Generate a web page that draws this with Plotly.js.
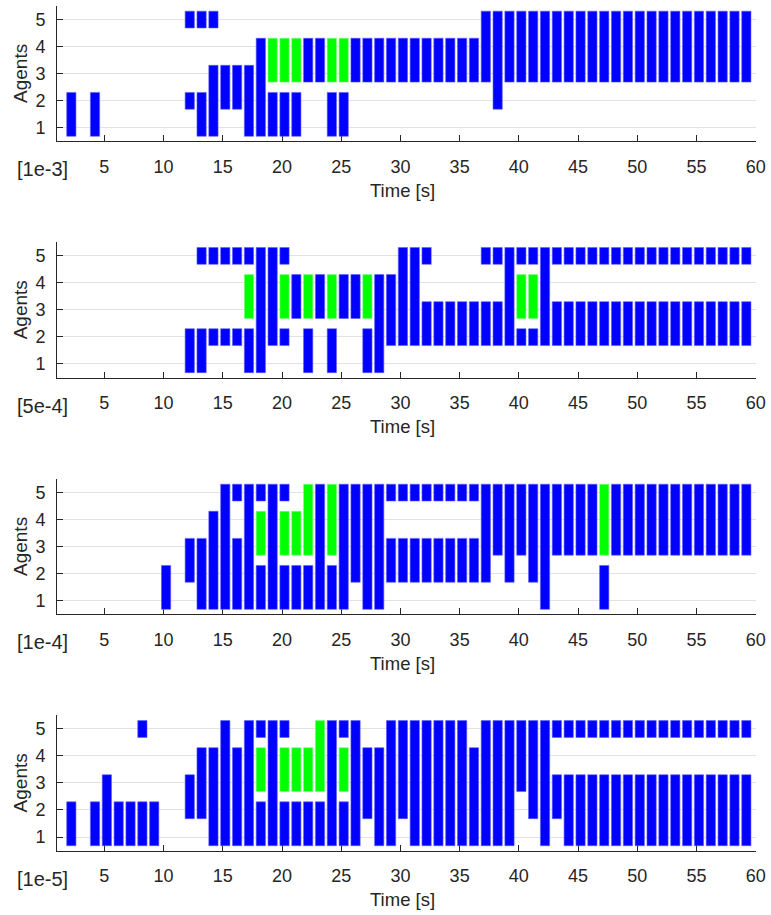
<!DOCTYPE html>
<html>
<head>
<meta charset="utf-8">
<script src="https://cdn.plot.ly/plotly-3.0.1.min.js"></script>
<style>html,body{margin:0;padding:0;background:#fff;}#chart{width:771px;height:915px;}</style>
</head>
<body>
<div id="chart"></div>
<script>
// ---- data: [time step, lowest agent, highest agent] of each contiguous group ----
const TIME_TICKS = [5,10,15,20,25,30,35,40,45,50,55,60];
const AGENT_TICKS = [1,2,3,4,5];
const SCALE_LABELS = ['[1e-3]','[5e-4]','[1e-4]','[1e-5]'];

const blue1 = [[2,1,2],[4,1,2],[12,5,5],[12,2,2],[13,5,5],[13,1,2],[14,5,5],[14,1,3],[15,2,3],[16,2,3],[17,1,3],[18,1,4],
 [19,1,2],[20,1,2],[21,1,2],[22,3,4],[23,3,4],[24,1,2],[25,1,2],
 [26,3,4],[27,3,4],[28,3,4],[29,3,4],[30,3,4],[31,3,4],[32,3,4],[33,3,4],[34,3,4],[35,3,4],[36,3,4],
 [37,3,5],[38,2,5],[39,3,5],[40,3,5],[41,3,5],[42,3,5],[43,3,5],[44,3,5],[45,3,5],[46,3,5],[47,3,5],[48,3,5],
 [49,3,5],[50,3,5],[51,3,5],[52,3,5],[53,3,5],[54,3,5],[55,3,5],[56,3,5],[57,3,5],[58,3,5],[59,3,5]];
const green1 = [[19,3,4],[20,3,4],[21,3,4],[24,3,4],[25,3,4]];

const blue2 = [[12,1,2],[13,5,5],[13,1,2],[14,5,5],[14,2,2],[15,5,5],[15,2,2],[16,5,5],[16,2,2],[17,5,5],[17,1,2],
 [18,1,5],[19,2,5],[20,5,5],[20,2,2],[21,3,4],[22,1,2],[23,3,4],[24,1,2],[25,3,4],[26,3,4],[27,1,2],[28,1,4],[29,2,4],
 [30,2,5],[31,2,5],[32,5,5],[32,2,3],[33,2,3],[34,2,3],[35,2,3],[36,2,3],[37,5,5],[37,2,3],[38,5,5],[38,2,3],
 [39,2,5],[40,5,5],[40,2,2],[41,5,5],[41,2,2],[42,2,5],
 [43,5,5],[43,2,3],[44,5,5],[44,2,3],[45,5,5],[45,2,3],[46,5,5],[46,2,3],[47,5,5],[47,2,3],[48,5,5],[48,2,3],
 [49,5,5],[49,2,3],[50,5,5],[50,2,3],[51,5,5],[51,2,3],[52,5,5],[52,2,3],[53,5,5],[53,2,3],[54,5,5],[54,2,3],
 [55,5,5],[55,2,3],[56,5,5],[56,2,3],[57,5,5],[57,2,3],[58,5,5],[58,2,3],[59,5,5],[59,2,3]];
const green2 = [[17,3,4],[20,3,4],[22,3,4],[24,3,4],[27,3,4],[40,3,4],[41,3,4]];

const blue3 = [[10,1,2],[12,2,3],[13,1,3],[14,1,4],[15,1,5],[16,5,5],[16,1,3],[17,1,5],[18,5,5],[18,1,2],[19,1,5],
 [20,5,5],[20,1,2],[21,1,2],[22,1,2],[23,1,5],[24,1,2],[25,1,5],[26,2,5],[27,1,5],[28,1,5],
 [29,5,5],[29,2,3],[30,5,5],[30,2,3],[31,5,5],[31,2,3],[32,5,5],[32,2,3],[33,5,5],[33,2,3],[34,5,5],[34,2,3],
 [35,5,5],[35,2,3],[36,5,5],[36,2,3],[37,2,5],[38,3,5],[39,2,5],[40,3,5],[41,2,5],[42,1,5],
 [43,3,5],[44,3,5],[45,3,5],[46,3,5],[47,1,2],[48,3,5],[49,3,5],[50,3,5],[51,3,5],[52,3,5],[53,3,5],
 [54,3,5],[55,3,5],[56,3,5],[57,3,5],[58,3,5],[59,3,5]];
const green3 = [[18,3,4],[20,3,4],[21,3,4],[22,3,5],[24,3,5],[47,3,5]];

const blue4 = [[2,1,2],[4,1,2],[5,1,3],[6,1,2],[7,1,2],[8,5,5],[8,1,2],[9,1,2],[12,2,3],[13,2,4],[14,1,4],[15,1,5],
 [16,1,4],[17,1,5],[18,5,5],[18,1,2],[19,1,5],[20,5,5],[20,1,2],[21,1,2],[22,1,2],[23,1,2],[24,1,5],[25,5,5],[25,1,2],
 [26,1,5],[27,2,4],[28,1,4],[29,1,5],[30,2,5],[31,1,5],[32,1,5],[33,1,5],[34,1,5],[35,1,5],[36,1,4],[37,1,5],
 [38,1,5],[39,1,5],[40,3,5],[41,2,5],[42,1,5],[43,5,5],[43,2,3],
 [44,5,5],[44,1,3],[45,5,5],[45,1,3],[46,5,5],[46,1,3],[47,5,5],[47,1,3],[48,5,5],[48,1,3],[49,5,5],[49,1,3],
 [50,5,5],[50,1,3],[51,5,5],[51,1,3],[52,5,5],[52,1,3],[53,5,5],[53,1,3],[54,5,5],[54,1,3],[55,5,5],[55,1,3],
 [56,5,5],[56,1,3],[57,5,5],[57,1,3],[58,5,5],[58,1,3],[59,5,5],[59,1,3]];
const green4 = [[18,3,4],[20,3,4],[21,3,4],[22,3,4],[23,3,5],[25,3,4]];

// ---- drawing ----
const panels = [[blue1,green1],[blue2,green2],[blue3,green3],[blue4,green4]];
const W = 771, H = 915;
const X_LEFT = 57, X_RIGHT = 755.7;
const PANEL_TOP = [5.75, 242.1, 478.8, 715.2];
const PANEL_H = 135.4;
const FONT = 'Liberation Sans, Arial, Helvetica, sans-serif';
const INK = '#262626';
const BAR_W = 0.78, BAR_SHIFT = 0.21, PAD_LO = 0.32, PAD_HI = 0.3;

function trace(segs, color, i){
  return {
    type:'bar',
    x: segs.map(s => s[0] + BAR_SHIFT),
    base: segs.map(s => s[1] - PAD_LO),
    y: segs.map(s => s[2] - s[1] + PAD_LO + PAD_HI),
    width: BAR_W,
    marker:{color:color, line:{width:0.6, color: color === '#0000ff' ? '#5a5aff' : '#7dff7d'}},
    xaxis: i === 0 ? 'x' : 'x' + (i+1),
    yaxis: i === 0 ? 'y' : 'y' + (i+1),
    hoverinfo:'skip',
    showlegend:false
  };
}
const data = [];
panels.forEach((p,i) => { data.push(trace(p[0],'#0000ff',i)); data.push(trace(p[1],'#00ff00',i)); });

const layout = {
  width: W, height: H,
  margin:{l:0,r:0,t:0,b:0},
  paper_bgcolor:'#ffffff', plot_bgcolor:'#ffffff',
  barmode:'overlay', showlegend:false,
  font:{family:FONT, color:INK},
  annotations:[]
};
const fx = px => px / W;
const fy = py => 1 - py / H;
for (let i = 0; i < 4; i++){
  const sfx = i === 0 ? '' : String(i+1);
  const top = PANEL_TOP[i], bot = top + PANEL_H;
  layout['xaxis'+sfx] = {
    domain:[fx(X_LEFT), fx(X_RIGHT)], anchor:'y'+sfx, range:[1,60],
    tickmode:'array', tickvals:TIME_TICKS, ticktext:TIME_TICKS.map(String),
    ticks:'inside', ticklen:6, tickwidth:1, tickcolor:INK,
    showline:true, linecolor:INK, linewidth:1, showgrid:false, zeroline:false,
    tickfont:{family:FONT, size:18, color:INK}, ticklabelstandoff:9,
    layer:'below traces', fixedrange:true
  };
  layout['yaxis'+sfx] = {
    domain:[fy(bot), fy(top)], anchor:'x'+sfx, range:[0.5,5.5],
    tickmode:'array', tickvals:AGENT_TICKS, ticktext:AGENT_TICKS.map(String),
    ticks:'inside', ticklen:6, tickwidth:1, tickcolor:INK,
    showline:true, linecolor:INK, linewidth:1, showgrid:true, gridcolor:'#e2e2e2', gridwidth:1, zeroline:false,
    tickfont:{family:FONT, size:18, color:INK}, ticklabelstandoff:7,
    layer:'below traces', fixedrange:true
  };
  layout.annotations.push({text:SCALE_LABELS[i], xref:'paper', yref:'paper', x:fx(42), y:fy(bot+28),
    xanchor:'center', yanchor:'middle', showarrow:false, font:{family:FONT, size:20, color:INK}});
  layout.annotations.push({text:'Time [s]', xref:'paper', yref:'paper', x:fx(402), y:fy(bot+49),
    xanchor:'center', yanchor:'middle', showarrow:false, font:{family:FONT, size:18.5, color:INK}});
  layout.annotations.push({text:'Agents', xref:'paper', yref:'paper', x:fx(20.5), y:fy(top+PANEL_H/2),
    xanchor:'center', yanchor:'middle', textangle:-90, showarrow:false, font:{family:FONT, size:19, color:INK}});
}
Plotly.newPlot('chart', data, layout, {staticPlot:true, displayModeBar:false});
</script>
</body>
</html>
